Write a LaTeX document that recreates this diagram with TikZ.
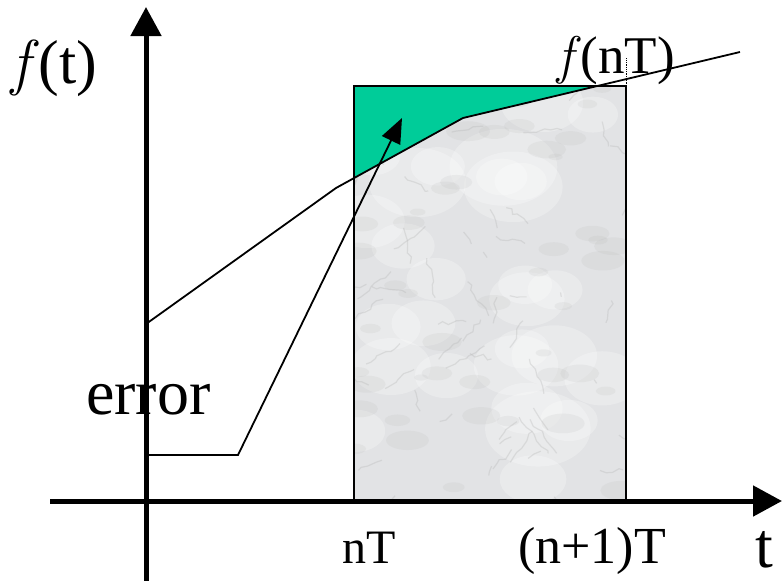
\documentclass[tikz,border=0pt]{standalone}
\usepackage{fontspec}
\setmainfont{Liberation Serif}
\newfontfamily\lmrfont{Latin Modern Roman}
\usetikzlibrary{arrows.meta,decorations.pathmorphing}
\definecolor{errgreen}{RGB}{0,204,153}
\definecolor{marblebase}{RGB}{226,227,229}
\newcommand{\itf}{{\lmrfont\itshape f\/}}
\tikzset{
  axisline/.style={line width=5pt,-{Triangle[length=29pt,width=30pt]}},
  curveline/.style={line width=1.8pt},
  lbl/.style={anchor=base west,inner sep=0pt,text=black},
  vein/.style={draw=gray!60,line width=1.2pt,opacity=0.3,decorate,
    decoration={random steps,segment length=6pt,amplitude=2.5pt}},
  blot/.style={fill=gray!60,opacity=0.14},
}
\begin{document}
\begin{tikzpicture}[x=1pt,y=-1pt]
\useasboundingbox (0,0) rectangle (782,581);
% key points
\coordinate (O) at (146,501);
\coordinate (ytop) at (146,7);
\coordinate (ybot) at (146,581);
\coordinate (xleft) at (50,501);
\coordinate (xright) at (782,501);
\coordinate (r1) at (354,86);
\coordinate (r2) at (626,501);
\coordinate (c0) at (146,324);
\coordinate (c1) at (336,188);
\coordinate (c2) at (463,118);
\coordinate (c3) at (740,52);
\coordinate (g1) at (354,86);
\coordinate (g2) at (597,86);
\coordinate (g4) at (354,178);
\coordinate (e0) at (146,455);
\coordinate (e1) at (238,455);
\coordinate (e2) at (402,118);
% marble rectangle
\begin{scope}
  \clip (r1) rectangle (r2);
  \fill[marblebase] (r1) rectangle (r2);
  \pgfmathsetseed{11}
  \foreach \i in {1,...,30}{
    \pgfmathsetmacro\xa{354+rnd*272}
    \pgfmathsetmacro\ya{86+rnd*415}
    \pgfmathsetmacro\ra{15+rnd*25}
    \fill[white,opacity=0.25] (\xa,\ya) ellipse ({\ra*1.4} and \ra);
  }
  \foreach \i in {1,...,45}{
    \pgfmathsetmacro\xa{354+rnd*272}
    \pgfmathsetmacro\ya{86+rnd*415}
    \pgfmathsetmacro\ra{3+rnd*7}
    \fill[blot] (\xa,\ya) ellipse ({\ra*2.2} and \ra);
  }
  \foreach \i in {1,...,60}{
    \pgfmathsetmacro\xa{354+rnd*272}
    \pgfmathsetmacro\ya{86+rnd*415}
    \pgfmathsetmacro\dx{(rnd-0.5)*80}
    \pgfmathsetmacro\dy{(rnd-0.5)*80}
    \draw[vein] (\xa,\ya) -- ++(\dx,\dy);
  }
\end{scope}
% green error area
\fill[errgreen] (g1) -- (g2) -- (c2) -- (g4) -- cycle;
\draw[line width=1.3pt] (r1) rectangle (r2);
\draw[densely dotted,line width=0.8pt] (626,86) -- (626,58);
% curve
\draw[curveline,line join=round] (c0) -- (c1) -- (c2) -- (c3);
% error pointer
\draw[curveline,-{Triangle[length=25pt,width=20pt]}] (e0) -- (e1) -- (e2);
% axes
\draw[axisline] (ybot) -- (ytop);
\draw[axisline] (xleft) -- (xright);
% labels
\node[lbl,font=\fontsize{62}{62}\selectfont] (ft) at (11,83) {\itf(t)};
\node[lbl,font=\fontsize{53}{53}\selectfont] (fnT) at (557,73) {\itf(nT)};
\node[lbl,font=\fontsize{64}{64}\selectfont] (err) at (86,414) {error};
\node[lbl,font=\fontsize{48}{48}\selectfont] (nT) at (342,563) {nT};
\node[lbl,font=\fontsize{52}{52}\selectfont] (n1T) at (518,563) {(n+1)T};
\node[lbl,font=\fontsize{64}{64}\selectfont] (tl) at (755,567) {t};
\end{tikzpicture}
\end{document}
